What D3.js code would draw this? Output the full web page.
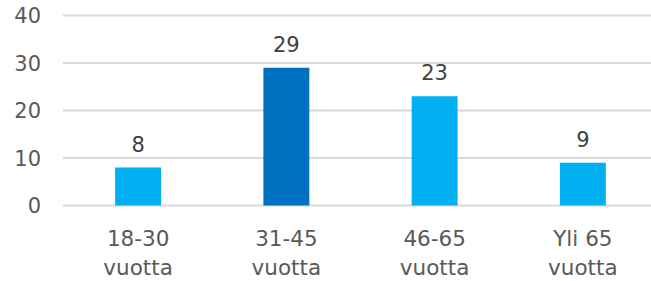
<!DOCTYPE html>
<html>
<head>
<meta charset="utf-8">
<script src="https://cdn.jsdelivr.net/npm/d3@7"></script>
<style>
  html, body { margin: 0; padding: 0; background: #fff; }
  text { font-family: "DejaVu Sans", Verdana, sans-serif; }
</style>
</head>
<body>
<svg id="chart" width="651" height="281"></svg>
<script>
const categories = [["18-30", "vuotta"], ["31-45", "vuotta"], ["46-65", "vuotta"], ["Yli 65", "vuotta"]];
const values = [8, 29, 23, 9];
const barColors = ["#00B0F0", "#0070C0", "#00B0F0", "#00B0F0"];
const yTicks = [0, 10, 20, 30, 40];

const svg = d3.select("#chart");
const plotLeft = 63, plotRight = 651;

const x = d3.scaleBand()
  .domain(d3.range(categories.length))
  .range([64, 657])
  .paddingInner(0.69)
  .paddingOuter(0.345);

const y = d3.scaleLinear().domain([0, 40]).range([205.5, 15.5]);

// gridlines
svg.append("g")
  .selectAll("line")
  .data(yTicks)
  .join("line")
  .attr("x1", plotLeft)
  .attr("x2", plotRight)
  .attr("y1", d => y(d))
  .attr("y2", d => y(d))
  .attr("stroke", "#D9D9D9")
  .attr("stroke-width", 2);

// y tick labels
svg.append("g")
  .selectAll("text")
  .data(yTicks)
  .join("text")
  .attr("x", 41)
  .attr("y", d => y(d))
  .attr("dy", "0.36em")
  .attr("text-anchor", "end")
  .attr("fill", "#595959")
  .style("font-size", "21px")
  .text(d => d);

// bars
svg.append("g")
  .selectAll("rect")
  .data(values)
  .join("rect")
  .attr("x", (d, i) => x(i))
  .attr("width", x.bandwidth())
  .attr("y", d => y(d))
  .attr("height", d => y(0) - y(d))
  .attr("fill", (d, i) => barColors[i]);

// value labels
svg.append("g")
  .selectAll("text")
  .data(values)
  .join("text")
  .attr("x", (d, i) => x(i) + x.bandwidth() / 2)
  .attr("y", d => y(d) - 16)
  .attr("text-anchor", "middle")
  .attr("fill", "#404040")
  .style("font-size", "21px")
  .text(d => d);

// category labels
const cat = svg.append("g")
  .selectAll("text")
  .data(categories)
  .join("text")
  .attr("x", (d, i) => x(i) + x.bandwidth() / 2)
  .attr("y", 246)
  .attr("text-anchor", "middle")
  .attr("fill", "#595959")
  .style("font-size", "21.5px");

cat.selectAll("tspan")
  .data(d => d)
  .join("tspan")
  .attr("x", function() { return d3.select(this.parentNode).attr("x"); })
  .attr("dy", (d, i) => i ? 29 : 0)
  .text(d => d);
</script>
</body>
</html>
